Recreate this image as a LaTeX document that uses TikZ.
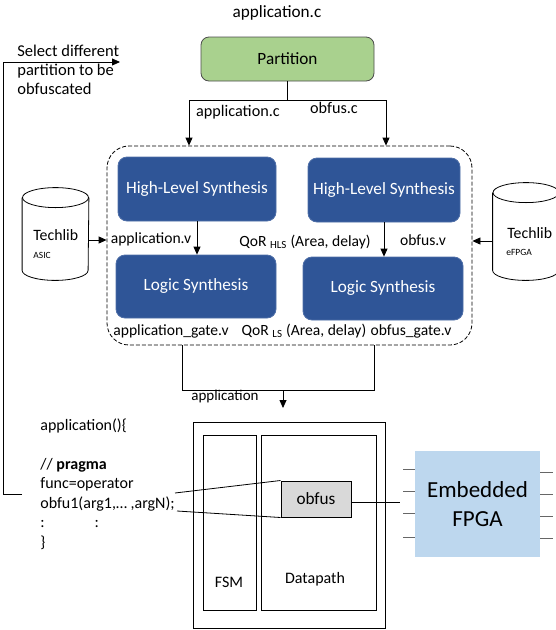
\documentclass[tikz,border=0pt]{standalone}
\usepackage{fontspec}
\setmainfont{Carlito}
\usetikzlibrary{arrows.meta,positioning}
\definecolor{partgreen}{HTML}{A9D18E}
\definecolor{synblue}{HTML}{2F5597}
\definecolor{fpgablue}{HTML}{BDD7EE}
\definecolor{obfgray}{HTML}{D9D9D9}
\newcommand{\txtsize}{\fontsize{17.2}{19.5}\selectfont}
\newcommand{\flowsize}{\fontsize{15.6}{18}\selectfont}
\newcommand{\libsize}{\fontsize{15.8}{18}\selectfont}
\newcommand{\tagsize}{\fontsize{9.5}{10}\selectfont}
\newcommand{\drawdb}[1]{%
  \draw ([yshift=-10pt]#1.north) ellipse [x radius=33pt, y radius=10pt];
  \draw ([yshift=-10pt]#1.north west) -- ([yshift=10pt]#1.south west)
    arc [start angle=180, end angle=360, x radius=33pt, y radius=10pt]
    -- ([yshift=-10pt]#1.north east);}
\tikzset{
  arr/.style={-{Triangle[length=8pt,width=7pt]}},
  lbl/.style={font=\flowsize, inner sep=0pt},
  partbox/.style={rectangle, rounded corners=8pt, draw=black!70, fill=partgreen, font=\txtsize},
  synbox/.style={rectangle, rounded corners=9pt, fill=synblue, draw=synblue!85!white, text=white, font=\txtsize},
  flowbox/.style={rectangle, rounded corners=22pt, draw, dash pattern=on 4pt off 2pt},
  libdb/.style={rectangle, minimum width=66pt, inner sep=0pt},
  blk/.style={rectangle, draw, line width=1pt},
}
\begin{document}
\begin{tikzpicture}[x=1pt,y=-1pt,line width=0.8pt]
\useasboundingbox (0,0) rectangle (556,630);
% partition step
\node[lbl, font=\txtsize] (src) at (277,13) {application.c};
\node[partbox, minimum width=173pt, minimum height=44pt] (part) at (287.5,59) {Partition};
% synthesis flow
\node[flowbox, minimum width=365pt, minimum height=199pt] (flow) at (289.5,245.5) {};
\node[synbox, minimum width=158pt, minimum height=64pt] (hlsA) at (197,189) {High-Level Synthesis};
\node[synbox, minimum width=152pt, minimum height=64pt] (hlsB) at (384,190) {High-Level Synthesis};
\node[synbox, minimum width=160pt, minimum height=63pt] (lsA) at (196,286.5) {Logic Synthesis};
\node[synbox, minimum width=160pt, minimum height=63pt] (lsB) at (383,288.5) {Logic Synthesis};
\coordinate (splitL) at (189,100);
\coordinate (splitR) at (386,100);
\draw (part.south) -- (part.south |- splitL);
\draw[arr] (splitL) -- (splitR) -- (splitR |- flow.north);
\draw[arr] (splitL) -- (splitL |- flow.north);
\node[lbl, font=\fontsize{16.2}{18}\selectfont] (srcA) at (238,112) {application.c};
\node[lbl, font=\fontsize{16.2}{18}\selectfont] (srcB) at (334,108) {obfus.c};
\draw[arr] (hlsA.south) -- (hlsA.south |- lsA.north);
\draw[arr] (hlsB.south) -- (hlsB.south |- lsB.north);
\node[lbl] (rtlA) at (151,239) {application.v};
\node[lbl] (qorhls) at (305,242) {QoR \textsubscript{HLS} (Area, delay)};
\node[lbl] (rtlB) at (423,240) {obfus.v};
\node[lbl] (gateA) at (171,331) {application\_gate.v};
\node[lbl] (qorls) at (304,331) {QoR \textsubscript{LS} (Area, delay)};
\node[lbl] (gateB) at (411,331) {obfus\_gate.v};
% technology libraries
\node[libdb, minimum height=92pt] (asic) at (55.5,234) {};
\drawdb{asic}
\node[lbl, font=\libsize, anchor=west] (asicname) at (33,235) {Techlib};
\node[lbl, font=\tagsize, anchor=west] (asictag) at (33,255) {ASIC};
\node[libdb, minimum height=97pt] (fpgalib) at (526,231.5) {};
\drawdb{fpgalib}
\node[lbl, font=\libsize, anchor=west] (fpganame) at (507,233) {Techlib};
\node[lbl, font=\tagsize, anchor=west] (fpgatag) at (506,252) {eFPGA};
\coordinate (asicout) at ([yshift=-6pt]asic.east);
\coordinate (fpgaout) at ([yshift=-9.5pt]fpgalib.west);
\draw[arr] (asicout) -- (asicout -| flow.west);
\draw[arr] (fpgaout) -- (fpgaout -| flow.east);
% merge into one design
\coordinate (joinL) at (182,390);
\coordinate (joinR) at (374,390);
\coordinate (joinM) at (283,390);
\coordinate (entry) at (283,408);
\draw (joinL |- flow.south) -- (joinL) -- (joinR) -- (joinR |- flow.south);
\draw[arr] (joinM) -- (entry);
\node[lbl, font=\fontsize{15}{18}\selectfont] (outlbl) at (225,396) {application};
% hardware
\node[blk, minimum width=192pt, minimum height=206pt] (chip) at (289,525) {};
\node[blk, minimum width=53pt, minimum height=175pt] (fsm) at (229.5,522.5) {};
\node[blk, minimum width=115pt, minimum height=175pt] (dpath) at (318.5,522.5) {};
\node[lbl, font=\fontsize{16}{18}\selectfont] (fsmlbl) at (229,582) {FSM};
\node[lbl, font=\fontsize{16}{18}\selectfont] (dplbl) at (315,579) {Datapath};
\node[blk, fill=obfgray, minimum width=70pt, minimum height=36pt, font=\txtsize] (obf) at (316,499) {obfus};
\node[rectangle, fill=fpgablue, minimum width=125pt, minimum height=106pt, align=center,
  font=\fontsize{23}{29}\selectfont] (efpga) at (477.5,504) {Embedded\\FPGA};
\coordinate (fpgain) at (400,502);
\draw (obf.east |- fpgain) -- (fpgain);
\foreach \dy in {-35,-13,9,33}
  \draw[black!60] (efpga.west) ++(0,\dy) -- ++(-12,0);
\foreach \dy in {-32,-10,12,34}
  \draw[black!60] (efpga.east) ++(0,\dy) -- ++(13,0);
% source code
\node[lbl, font=\fontsize{16}{19.5}\selectfont, align=left, anchor=north west] (code) at (40,418)
  {application()\{\\[19.5pt]// \textbf{pragma}\\func=operator\\obfu1(arg1,\dots\ ,argN);\\:\hspace{50pt}:\\\}};
\coordinate (callA) at (175,493);
\coordinate (callB) at (177,511);
\draw (callA) -- (obf.north west);
\draw (callB) -- (obf.south west);
% feedback loop
\coordinate (fbA) at (22,494);
\coordinate (fbB) at (3,494);
\coordinate (fbC) at (3,62);
\coordinate (fbD) at (120,62);
\draw[arr] (fbA) -- (fbB) -- (fbC) -- (fbD);
\node[lbl, align=left, anchor=north west, font=\fontsize{16.5}{19}\selectfont] (select) at (17,45)
  {Select different\\partition to be\\obfuscated};
\end{tikzpicture}
\end{document}
